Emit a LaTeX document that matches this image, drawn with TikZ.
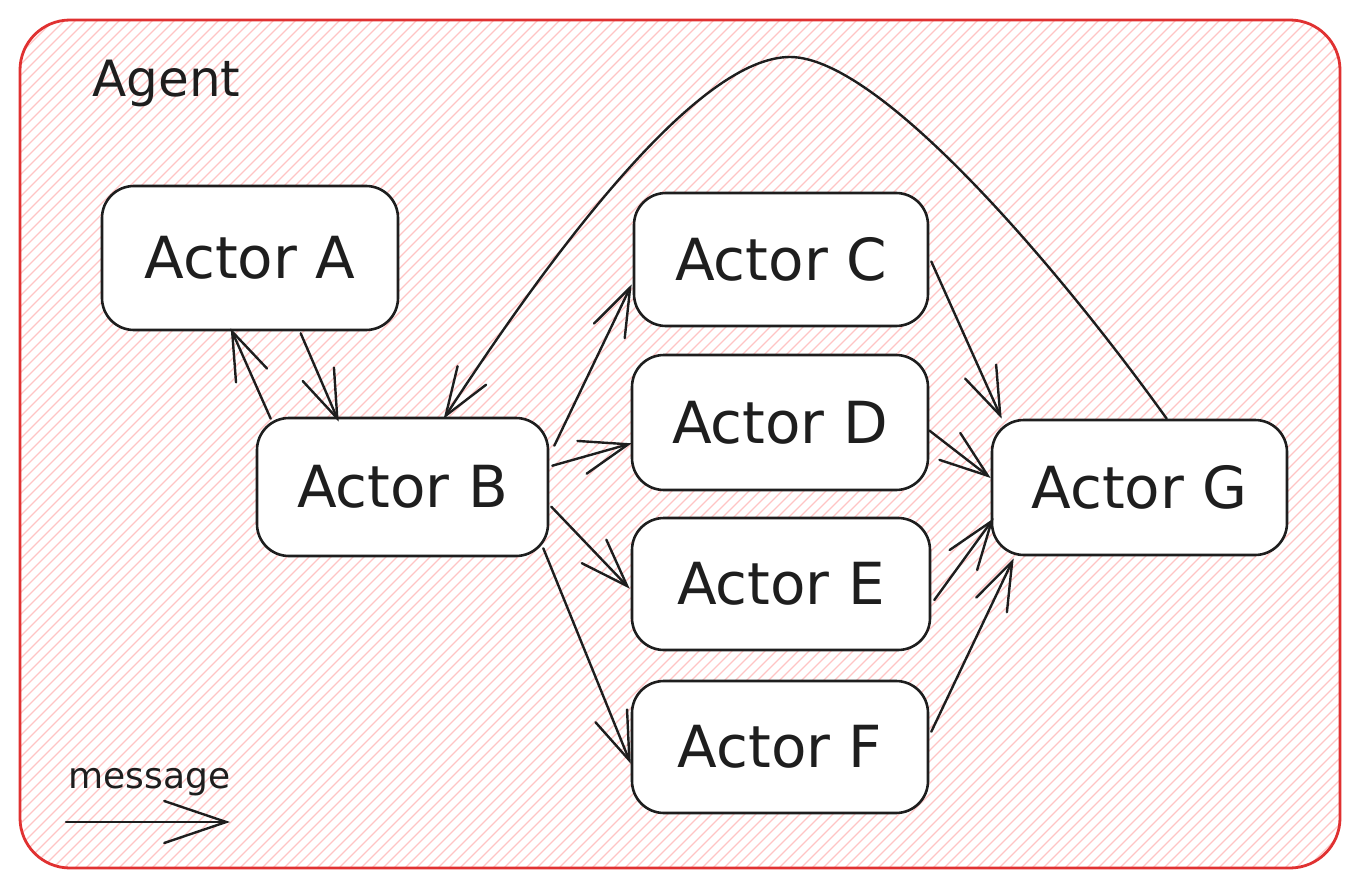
\documentclass[tikz,border=0pt]{standalone}
\usepackage{fontspec}
\setmainfont{DejaVu Sans}
\usetikzlibrary{arrows.meta,calc}
\definecolor{ink}{HTML}{1E1E1E}
\definecolor{framecol}{HTML}{E03131}
\definecolor{hatchcol}{HTML}{FFC4C4}
\begin{document}
\begin{tikzpicture}[x=0.5pt,y=-0.5pt,
  actor/.style={draw=ink, line width=1.3pt, fill=white, rounded corners=16pt,
    text=ink, font=\fontsize{29}{34}\selectfont, inner sep=0pt},
  msg/.style={draw=ink, line width=1.2pt, line cap=round,
    -{Straight Barb[length=24pt,width=17pt,line cap=round]}},
  label/.style={text=ink, inner sep=0pt, anchor=base west},
]
\useasboundingbox (0,0) rectangle (1360,888);

% hatched background of the agent frame
\begin{scope}
  \clip[rounded corners=25pt] (20,20) rectangle (1340,868);
  \foreach \c in {30,41,...,2230}
    \draw[hatchcol, line width=0.65pt] (\c,0) -- (\c-900,900);
\end{scope}
\draw[framecol, line width=1.4pt, rounded corners=25pt] (20,20) rectangle (1340,868);

\node[label, font=\fontsize{25}{30}\selectfont] (agent) at (92,97) {Agent};

% actors
\node[actor, minimum width=148pt, minimum height=72pt]   (A) at (250,258)   {Actor A};
\node[actor, minimum width=145.5pt, minimum height=69pt] (B) at (402.5,487) {Actor B};
\node[actor, minimum width=147pt, minimum height=66.5pt] (C) at (781,259.5) {Actor C};
\node[actor, minimum width=148pt, minimum height=67.5pt] (D) at (780,422.5) {Actor D};
\node[actor, minimum width=149pt, minimum height=66pt]   (E) at (781,584)   {Actor E};
\node[actor, minimum width=148pt, minimum height=66pt]   (F) at (780,747)   {Actor F};
\node[actor, minimum width=147.5pt, minimum height=67.5pt] (G) at (1139.5,487.5) {Actor G};

% messages
\draw[msg] ($(B.north west)+(15,2)$) -- ($(A.south west)+(130,-3)$);
\draw[msg] ($(A.south west)+(200,2)$) -- ($(B.north west)+(83,5)$);
\draw[msg] ($(B.north east)+(5,29)$) -- ($(C.south west)+(-1,-43)$);
\draw[msg] ($(B.north east)+(3,49)$) -- ($(D.south west)+(1,-48)$);
\draw[msg] ($(B.north east)+(2,90)$) -- ($(E.north west)+(-1,72)$);
\draw[msg] ($(B.south east)+(-6,-9)$) -- ($(F.north west)+(0,84)$);
\draw[msg] ($(C.east)+(2,2)$) -- ($(G.north west)+(11,0)$);
\draw[msg] ($(D.east)+(0,8)$) -- ($(G.west)+(0,-9.5)$);
\draw[msg] ($(E.east)+(3,16)$) -- ($(G.south west)+(3,-38)$);
\draw[msg] ($(F.north east)+(2,52)$) -- ($(G.south west)+(23,2)$);
\draw[msg] ($(G.north west)+(176,0)$) .. controls (1060,270) and (880,57) .. (790,57)
  .. controls (700,57) and (560,240) .. ($(B.north west)+(188,2)$);

% legend
\node[label, font=\fontsize{18}{22}\selectfont] (legend) at (68,788) {message};
\coordinate (m1) at (66,822);
\coordinate (m2) at (230,822);
\draw[msg, -{Straight Barb[length=31pt,width=21pt,line cap=round]}] (m1) -- (m2);
\end{tikzpicture}
\end{document}
